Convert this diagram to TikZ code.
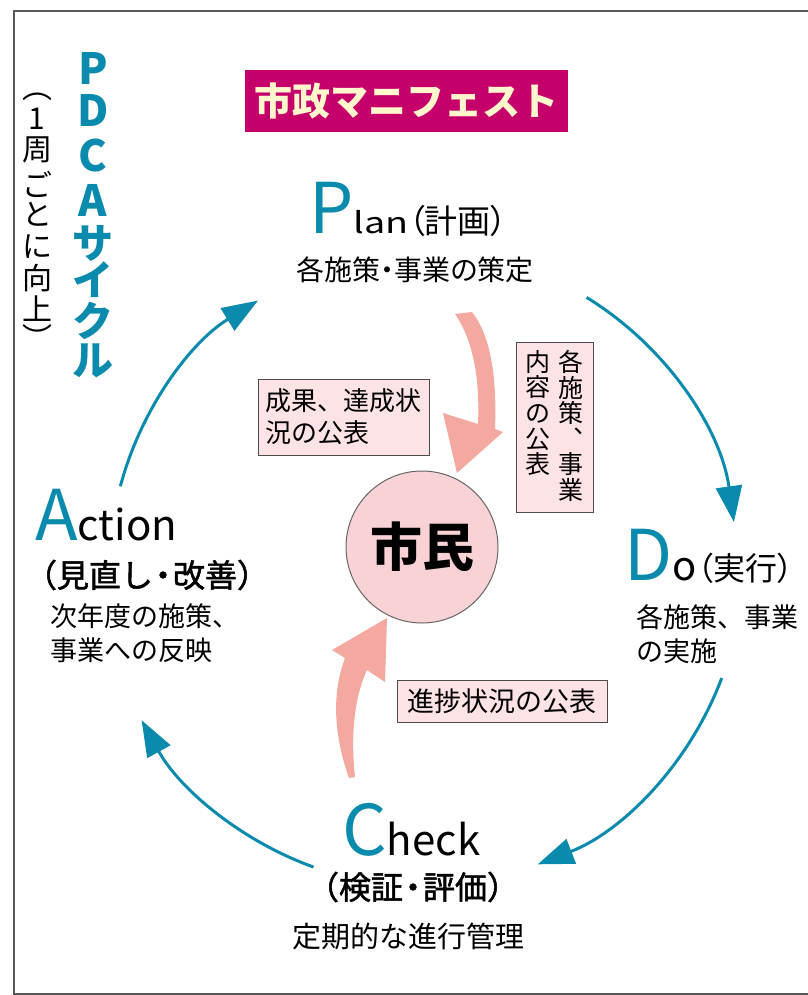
\documentclass[tikz,border=0pt]{standalone}
\usepackage{fontspec}
\usetikzlibrary{arrows.meta}
\newfontfamily\jp{Noto Sans CJK JP}
\newfontfamily\jpp[RawFeature=+palt]{Noto Sans CJK JP}
\newfontfamily\jpm[FakeBold=1.6]{Noto Sans CJK JP}
\definecolor{pdteal}{HTML}{0A8BAD}
\definecolor{titlemag}{HTML}{C6006B}
\definecolor{titlecream}{HTML}{FFF7CC}
\definecolor{citfill}{HTML}{F8D2D5}
\definecolor{lblfill}{HTML}{FDE2E6}
\definecolor{pinkarr}{HTML}{F4A9A0}
\newcommand\myfs[2]{\fontsize{#1}{#2}\selectfont\lineskiplimit=-1000pt\lineskip=0pt}
\newcommand\BigLetter[1]{{\color{pdteal}\myfs{70}{70}#1}}
\newcommand\ndot{\kern-6pt・\kern-6pt}
\begin{document}
\begin{tikzpicture}[x=1pt,y=-1pt,
  lbox/.style={draw=black!70, line width=1pt, fill=lblfill, inner sep=0pt},
  desc/.style={font=\jp\myfs{27}{34}, inner sep=0pt, text=black},
  head/.style={font=\jpp\myfs{31}{31}, inner sep=0pt, anchor=base west},
  vtxt/.style={align=center, inner sep=0pt, anchor=north},
  vch/.style={inner sep=0pt, anchor=center},
  cyc/.style={draw=pdteal, line width=3pt, -{Triangle[length=36pt,width=26pt]}}
]
\useasboundingbox (0,0) rectangle (807,995);
% frame
\draw[black!65, line width=1.5pt] (840,11) -- (14,11) -- (14,994) -- (840,994);

% vertical titles
\foreach \c/\yy [count=\i] in {P/68, D/110, C/156, A/200}
  \node[vch, font=\jp\bfseries\myfs{43}{43}, text=pdteal] (pdca\i) at (93,\yy) {\c};
\foreach \c/\yy [count=\i from 5] in {サ/243, イ/280, ク/321, ル/361}
  \node[vch, font=\jp\bfseries\myfs{41}{41}, text=pdteal] (pdca\i) at (93,\yy) {\c};
\foreach \c/\yy [count=\i] in {︵/97, 1/119, 周/150, ご/184, と/214, に/247, 向/278, 上/309, ︶/337}
  \node[vch, font=\jp\myfs{30}{30}] (shu\i) at (37,\yy) {\c};

% title
\node[fill=titlemag, minimum width=323pt, minimum height=62pt, inner sep=0pt,
  font=\jp\bfseries\myfs{38}{38}, text=titlecream] (title) at (406,101) {市政マニフェスト};

% Plan
\node[head] (plan) at (309,233) {\BigLetter{P}{\myfs{29}{29}\scalebox{1.3}[1]{lan}}{\myfs{33}{33}（計画）}};
\node[desc, font=\jpp\myfs{28}{28}] (plandesc) at (415,270) {各施策・事業の策定};

% Do
\node[head] (do) at (624,580) {\BigLetter{D}{\myfs{40}{40}o}\hspace{1pt}{\myfs{32}{32}（実行）}};
\node[desc, align=left, anchor=west] (dodesc) at (636,634) {各施策、事業\\の実施};

% Action
\node[head] (act) at (35,540) {\BigLetter{A}{\myfs{42}{42}ction}};
\node[font=\jpm\myfs{32}{32}, inner sep=0pt] (actsub) at (147,575) {（見直し\ndot 改善）};
\node[desc, align=left, anchor=west] (actdesc) at (50,633) {次年度の施策、\\事業への反映};

% Check
\node[head] (chk) at (342,855) {\BigLetter{C}{\myfs{42}{42}heck}};
\node[font=\jpm\myfs{32}{32}, inner sep=0pt] (chksub) at (413,887) {（検証\ndot 評価）};
\node[desc, font=\jp\myfs{29}{29}] (chkdesc) at (408,936) {定期的な進行管理};

% citizens
\node[circle, draw=black!60, line width=1pt, fill=citfill, minimum size=152pt, inner sep=0pt,
  font=\jp\bfseries\myfs{52}{52}] (cit) at (422,547) {市民};

% label boxes
\node[lbox, minimum width=171pt, minimum height=76pt, align=left,
  font=\jp\myfs{26}{32}] (res) at (343.5,417) {成果、達成状\\況の公表};
\node[lbox, minimum width=77pt, minimum height=170pt] (pub) at (554.5,427) {};
\node[vtxt, font=\jp\myfs{25}{25.6}] (pubr) at (571,350) {各\\施\\策\\︑\\事\\業};
\node[vtxt, font=\jp\myfs{25}{25.6}] (publ) at (538,350) {内\\容\\の\\公\\表};
\node[lbox, minimum width=210pt, minimum height=42pt,
  font=\jp\myfs{27}{27}] (prog) at (502,701) {進捗状況の公表};

% pink arrows
\fill[pinkarr] (455,314) .. controls (473,340) and (480,378) .. (478,424)
  -- (443,413) -- (457,473) -- (503,432) -- (495,429)
  .. controls (497,378) and (491,336) .. (472,312) -- cycle;
\fill[pinkarr] (387,618) -- (332,650) -- (345,658)
  .. controls (333,690) and (332,730) .. (349,778)
  -- (355,777) .. controls (351,740) and (353,700) .. (367,670)
  -- (385,682) -- cycle;

% cycle arrows
\coordinate (cc) at (422,566);
\draw[cyc] ([shift={(-58.5:315)}]cc) arc[start angle=-58.5, end angle=-8, radius=315];
\draw[cyc] ([shift={(20.5:320)}]cc) arc[start angle=20.5, end angle=68.8, radius=320];
\draw[cyc] ([shift={(109.8:320)}]cc) arc[start angle=109.8, end angle=151.2, radius=320];
\draw[cyc] ([shift={(194.8:312)}]cc) arc[start angle=194.8, end angle=238.3, radius=312];
\end{tikzpicture}
\end{document}
